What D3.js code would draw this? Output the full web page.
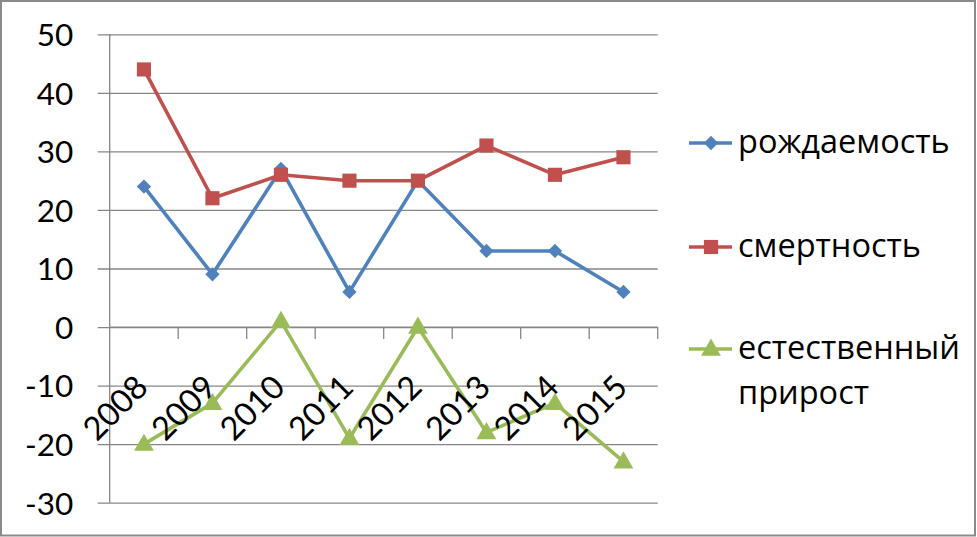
<!DOCTYPE html>
<html><head><meta charset="utf-8">
<script src="https://cdn.jsdelivr.net/npm/d3@7"></script>
<style>
html,body{margin:0;padding:0;background:#fff;}
svg{display:block;}
</style></head>
<body>
<svg id="chart" width="977" height="537"></svg>
<script>
const years = ["2008","2009","2010","2011","2012","2013","2014","2015"];
const births = [24, 9, 27, 6, 25, 13, 13, 6];
const deaths = [44, 22, 26, 25, 25, 31, 26, 29];
const natural = [-20, -13, 1, -19, 0, -18, -13, -23];
const seriesNames = ["рождаемость", "смертность", "естественный прирост"];
const yTicks = [-30, -20, -10, 0, 10, 20, 30, 40, 50];

const colors = ["#4F81BD", "#C0504D", "#9BBB59"];
const symbols = [d3.symbolDiamond2, d3.symbolSquare, d3.symbolTriangle];
const symSizes = [130, 200, 170];

const svg = d3.select("#chart");
const W = 977, H = 537;
const pLeft = 109.7, pRight = 657.7, pTop = 34.3, pBottom = 502.7;

svg.append("rect").attr("x", 1).attr("y", 1).attr("width", W - 3).attr("height", H - 2.5)
  .attr("fill", "#fff").attr("stroke", "#8a8a8a").attr("stroke-width", 2);

const x = d3.scaleBand().domain(years).range([pLeft, pRight]).padding(0);
const y = d3.scaleLinear().domain([-30, 50]).range([pBottom, pTop]);
const cx = d => x(d) + x.bandwidth() / 2;

const numFont = "Lato, 'Open Sans', sans-serif";

// gridlines + y axis
const yAxis = d3.axisLeft(y).tickValues(yTicks).tickSize(-(pRight - pLeft)).tickPadding(0).tickFormat(d => String(d));
const gy = svg.append("g").attr("transform", `translate(${pLeft},0)`).call(yAxis);
gy.select(".domain").remove();
gy.selectAll(".tick line").attr("stroke", "#868686").attr("stroke-width", 1.3).attr("x1", -12);
gy.selectAll(".tick text").attr("x", -36.5).attr("dy", "0.36em")
  .attr("font-family", numFont).attr("font-size", 31.5).attr("fill", "#000").attr("text-anchor", "end");

svg.append("line").attr("x1", pLeft).attr("x2", pLeft).attr("y1", pTop).attr("y2", pBottom)
  .attr("stroke", "#868686").attr("stroke-width", 1.3);

// x axis at zero
const xAxis = d3.axisBottom(x).tickSize(12).tickFormat("").tickSizeOuter(0);
const gx = svg.append("g").attr("transform", `translate(0,${y(0)})`).call(xAxis);
gx.select(".domain").remove();
gx.selectAll(".tick line").attr("transform", `translate(${x.bandwidth() / 2},0)`)
  .attr("stroke", "#868686").attr("stroke-width", 1.3);
svg.append("line").attr("x1", pLeft).attr("x2", pRight).attr("y1", y(0)).attr("y2", y(0))
  .attr("stroke", "#868686").attr("stroke-width", 1.3);

// series
const allSeries = [births, deaths, natural];
const line = d3.line().x((d, i) => cx(years[i])).y(d => y(d));
allSeries.forEach((s, k) => {
  svg.append("path").datum(s).attr("d", line).attr("fill", "none")
    .attr("stroke", colors[k]).attr("stroke-width", 3.6).attr("stroke-linejoin", "round");
  svg.append("g").selectAll("path").data(s).join("path")
    .attr("d", d3.symbol().type(symbols[k]).size(symSizes[k]))
    .attr("transform", (d, i) => `translate(${cx(years[i])},${y(d) + (k === 2 ? 1 : 0)})`)
    .attr("fill", colors[k]);
});

// x labels (drawn over lines)
svg.append("g").selectAll("text").data(years).join("text")
  .attr("transform", d => `translate(${cx(d) + 6},${y(0) + 62}) rotate(-45)`)
  .attr("text-anchor", "end").attr("font-family", numFont).attr("font-size", 32.5).attr("fill", "#000")
  .text(d => d);

// legend
const legY = [143, 247, 349];
const lg = svg.append("g");
seriesNames.forEach((n, k) => {
  lg.append("line").attr("x1", 689).attr("x2", 732).attr("y1", legY[k]).attr("y2", legY[k])
    .attr("stroke", colors[k]).attr("stroke-width", 3.6);
  lg.append("path").attr("d", d3.symbol().type(symbols[k]).size(symSizes[k])())
    .attr("transform", `translate(711,${legY[k] + (k === 2 ? 1 : 0)})`).attr("fill", colors[k]);
  const t = lg.append("text").attr("x", 738).attr("y", legY[k] + 10)
    .attr("font-family", "'Open Sans', sans-serif").attr("font-size", 32.5).attr("fill", "#000");
  const parts = n.split(" ");
  if (k === 2) {
    t.append("tspan").attr("x", 738).text(parts[0]);
    t.append("tspan").attr("x", 738).attr("dy", 45).text(parts[1]);
  } else {
    t.text(n);
  }
});
</script>
</body></html>
